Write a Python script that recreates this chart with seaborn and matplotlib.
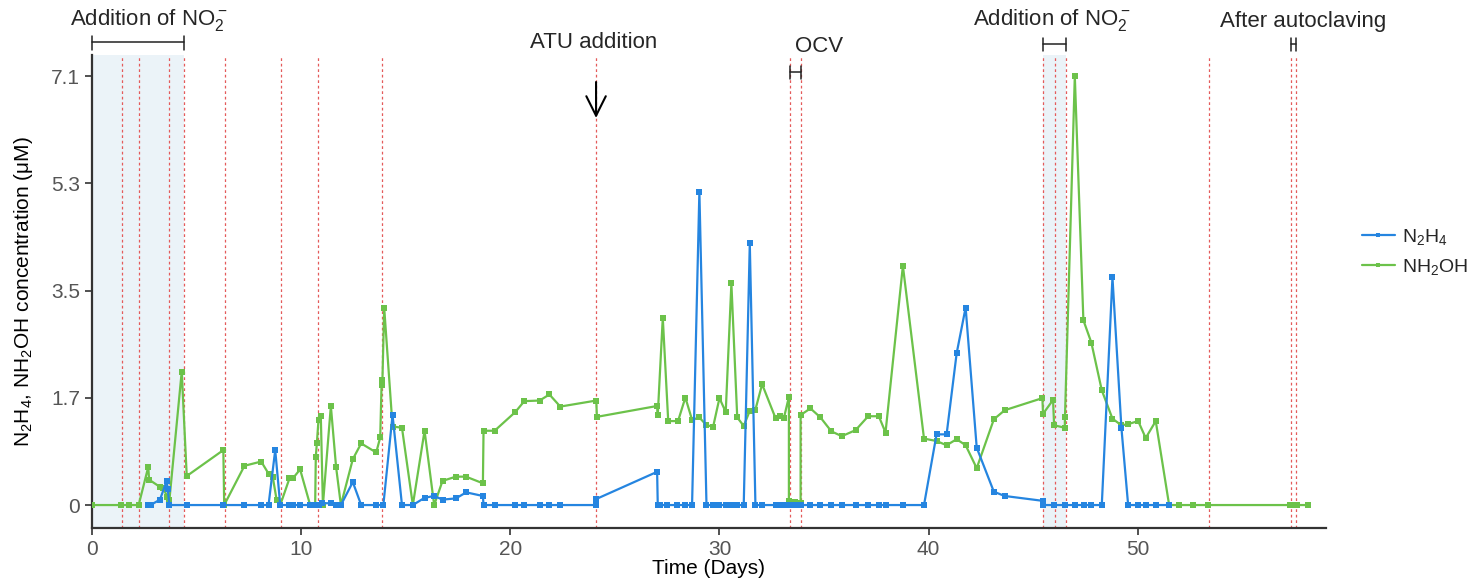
import numpy as np
import pandas as pd
import matplotlib
matplotlib.use("Agg")
import matplotlib.pyplot as plt
import matplotlib.transforms as mtrans
import seaborn as sns

# ---------------- data ----------------
n2h4_days = [2.69, 2.80, 3.25, 3.57, 3.62, 3.70, 4.53, 6.28, 7.29, 8.09, 8.44, 8.76, 9.00,
             9.44, 9.60, 9.95, 10.43, 10.67, 10.83, 10.98, 11.42, 11.67, 11.90, 12.47, 12.87,
             13.59, 13.93, 14.37, 14.82, 15.34, 15.90, 16.36, 16.76, 17.40, 17.89, 18.69, 18.72,
             19.25, 20.24, 20.67, 21.40, 21.87, 22.39, 24.11, 24.11, 27.02, 27.05, 27.18, 27.48,
             27.96, 28.36, 28.69, 29.04, 29.38, 29.70, 30.00, 30.30, 30.57, 30.85, 31.16, 31.45,
             31.72, 32.04, 32.68, 32.89, 33.08, 33.32, 33.59, 33.88, 34.35, 34.83, 35.35, 35.85,
             36.51, 37.11, 37.62, 37.94, 38.77, 39.78, 40.38, 40.86, 41.34, 41.77, 42.30, 43.12,
             43.64, 45.45, 45.47, 46.00, 46.52, 46.99, 47.43, 47.78, 48.28, 48.79, 49.22, 49.54,
             50.02, 50.38, 50.86, 51.50]
n2h4_vals = [0, 0, 0.09, 0.40, 0.27, 0, 0, 0, 0, 0, 0, 0.91, 0,
             0, 0, 0, 0, 0, 0, 0.03, 0.03, 0, 0, 0.38, 0,
             0, 0, 1.49, 0, 0, 0.12, 0.15, 0.09, 0.11, 0.21, 0.15, 0,
             0, 0, 0, 0, 0, 0, 0, 0.10, 0.55, 0, 0, 0,
             0, 0, 0, 5.19, 0, 0, 0, 0, 0, 0, 0, 4.33,
             0, 0, 0, 0, 0, 0, 0, 0, 0, 0, 0, 0,
             0, 0, 0, 0, 0, 0, 1.17, 1.17, 2.51, 3.27, 0.95, 0.22,
             0.15, 0.07, 0, 0, 0, 0, 0, 0, 0, 3.77, 1.27, 0,
             0, 0, 0, 0]

nh2oh_days = [0.00, 1.37, 1.79, 2.23, 2.69, 2.73, 3.25, 3.40, 3.60, 3.70, 4.29, 4.53, 6.28,
              6.32, 7.29, 8.09, 8.44, 8.64, 8.83, 9.00, 9.44, 9.60, 9.95, 10.43, 10.67, 10.70,
              10.75, 10.83, 10.94, 11.04, 11.42, 11.67, 11.90, 12.47, 12.87, 13.59, 13.78, 13.85,
              13.88, 13.97, 14.37, 14.82, 15.34, 15.90, 16.36, 16.76, 17.40, 17.88, 18.69, 18.72,
              19.25, 20.24, 20.67, 21.40, 21.87, 22.39, 24.11, 24.14, 27.02, 27.05, 27.29, 27.55,
              28.02, 28.37, 28.69, 29.04, 29.38, 29.70, 30.00, 30.30, 30.57, 30.85, 31.16, 31.45,
              31.72, 32.04, 32.68, 32.89, 33.08, 33.32, 33.32, 33.59, 33.88, 33.88, 34.35, 34.83,
              35.35, 35.85, 36.51, 37.11, 37.62, 37.94, 38.77, 39.78, 40.38, 40.86, 41.34, 41.77,
              42.30, 43.12, 43.64, 45.44, 45.47, 45.95, 46.00, 46.51, 46.52, 46.99, 47.40, 47.78,
              48.28, 48.79, 49.22, 49.54, 50.02, 50.38, 50.86, 51.50, 51.95, 52.62, 53.36, 57.29,
              57.45, 57.60, 58.12]
nh2oh_vals = [0, 0, 0, 0, 0.63, 0.42, 0.30, 0.28, 0.14, 0.08, 2.21, 0.48, 0.91,
              0, 0.65, 0.72, 0.52, 0.47, 0.08, 0, 0.44, 0.44, 0.59, 0, 0, 0.80,
              1.02, 1.41, 1.47, 0, 1.64, 0.63, 0, 0.76, 1.02, 0.87, 1.12, 2.07,
              1.98, 3.27, 1.30, 1.28, 0, 1.23, 0, 0.40, 0.47, 0.47, 0.36, 1.23,
              1.23, 1.54, 1.72, 1.73, 1.83, 1.63, 1.73, 1.46, 1.64, 1.49, 3.10, 1.39,
              1.39, 1.78, 1.41, 1.45, 1.32, 1.30, 1.77, 1.54, 3.67, 1.45, 1.31, 1.56,
              1.58, 2.00, 1.44, 1.47, 1.44, 1.79, 0.07, 0.05, 0.03, 1.49, 1.60, 1.45,
              1.22, 1.14, 1.24, 1.47, 1.47, 1.20, 3.96, 1.10, 1.06, 0.99, 1.09, 0.99,
              0.61, 1.42, 1.57, 1.77, 1.51, 1.74, 1.32, 1.28, 1.46, 7.10, 3.06, 2.69,
              1.90, 1.43, 1.32, 1.34, 1.39, 1.11, 1.39, 0, 0, 0, 0, 0,
              0, 0, 0]

series_names = ["N$_2$H$_4$", "NH$_2$OH"]
event_days = [1.42, 2.26, 3.70, 4.39, 6.36, 9.04, 10.80, 13.86, 24.10, 33.36, 33.91,
              45.49, 46.03, 46.56, 53.41, 57.35, 57.56]
shaded_periods = [(0.0, 4.39), (45.49, 46.56)]
x_ticks = [0, 10, 20, 30, 40, 50]
y_ticks = [0, 1.775, 3.55, 5.325, 7.1]
y_tick_labels = ["0", "1.7", "3.5", "5.3", "7.1"]

# ---------------- style ----------------
sns.set_theme(style="ticks")
plt.rcParams["font.family"] = ["Liberation Sans", "DejaVu Sans"]
plt.rcParams["mathtext.fontset"] = "custom"
plt.rcParams["mathtext.rm"] = "Liberation Sans"
plt.rcParams["mathtext.it"] = "Liberation Sans:italic"
plt.rcParams["mathtext.bf"] = "Liberation Sans:bold"
plt.rcParams["mathtext.default"] = "regular"

BLUE = "#2585e0"
GREEN = "#6cc24a"
RED = "#e45a5a"

W, H = 1468, 581
fig = plt.figure(figsize=(W / 100, H / 100), dpi=100)
ax = fig.add_axes([92 / W, 53 / H, (1326 - 92) / W, (528 - 55) / H])

for a, b in shaded_periods:
    ax.axvspan(a, b, color="#ebf3f8", zorder=0, lw=0)
for d in event_days:
    ax.axvline(d, color=RED, lw=0.9, ls=(0, (2.2, 2.2)), zorder=1)

df_g = pd.DataFrame({"day": nh2oh_days, "conc": nh2oh_vals})
df_b = pd.DataFrame({"day": n2h4_days, "conc": n2h4_vals})
sns.lineplot(data=df_g, x="day", y="conc", estimator=None, sort=False, color=GREEN,
             marker="s", markersize=4.5, markeredgewidth=0, lw=1.6, ax=ax,
             label=series_names[1], zorder=3)
sns.lineplot(data=df_b, x="day", y="conc", estimator=None, sort=False, color=BLUE,
             marker="s", markersize=4.5, markeredgewidth=0, lw=1.6, ax=ax,
             label=series_names[0], zorder=4)

ax.set_xlim(0, 59.0)
ax.set_ylim(-0.38, 7.45)
ax.set_xticks(x_ticks)
ax.set_yticks(y_ticks)
ax.set_yticklabels(y_tick_labels)
ax.tick_params(axis="both", labelsize=15, colors="#555555", length=5, width=1.2)
ax.tick_params(axis="both", color="#333333")
for s in ["top", "right"]:
    ax.spines[s].set_visible(False)
for s in ["left", "bottom"]:
    ax.spines[s].set_color("#333333")
    ax.spines[s].set_linewidth(1.6)

ax.set_xlabel("Time (Days)", fontsize=15, color="black")
ax.set_ylabel("N$_2$H$_4$, NH$_2$OH concentration (μM)", fontsize=15, color="black")
ax.xaxis.set_label_coords(0.5, (528 - 559) / 473)
ax.yaxis.set_label_coords((35 - 92) / 1234, 0.5)

# legend
handles, labels = ax.get_legend_handles_labels()
order = [labels.index(series_names[0]), labels.index(series_names[1])]
leg = ax.legend([handles[i] for i in order], [labels[i] for i in order],
                loc="upper left", bbox_to_anchor=(1358 / W, 1 - 223 / H),
                bbox_transform=fig.transFigure, frameon=False, fontsize=14,
                handlelength=1.7, handletextpad=0.35, labelspacing=0.5, markerscale=0.7,
                borderaxespad=0, borderpad=0.2)

# annotations
trans = mtrans.blended_transform_factory(ax.transData, fig.transFigure)


def fy(px):
    return 1 - px / H


def bracket(x0, x1, yh, ytop, ybot):
    ax.plot([x0, x1], [fy(yh), fy(yh)], transform=trans, color="#222222", lw=1.1,
            clip_on=False, zorder=6)
    for xx in (x0, x1):
        ax.plot([xx, xx], [fy(ytop), fy(ybot)], transform=trans, color="#222222", lw=1.1,
                clip_on=False, zorder=6)


ax.text(2.73, fy(20), "Addition of NO$_2^-$", transform=trans, ha="center", va="center", fontsize=16)
bracket(0.0, 4.39, 42, 36, 50)
ax.text(24.0, fy(43), "ATU addition", transform=trans, ha="center", va="center", fontsize=16)
ax.annotate("", xy=(24.1, fy(118)), xytext=(24.1, fy(82)), xycoords=trans, textcoords=trans,
            arrowprops=dict(arrowstyle="->,head_length=0.7,head_width=0.35", color="black",
                            lw=1.5, mutation_scale=20, shrinkA=0, shrinkB=0))
ax.text(34.75, fy(46), "OCV", transform=trans, ha="center", va="center", fontsize=16)
bracket(33.36, 33.91, 72, 66, 79)
ax.text(45.9, fy(20), "Addition of NO$_2^-$", transform=trans, ha="center", va="center", fontsize=16)
bracket(45.49, 46.56, 44, 38, 51)
ax.text(57.9, fy(22), "After autoclaving", transform=trans, ha="center", va="center", fontsize=16)
bracket(57.35, 57.56, 44, 38, 51)

fig.savefig("out.png", dpi=100)
